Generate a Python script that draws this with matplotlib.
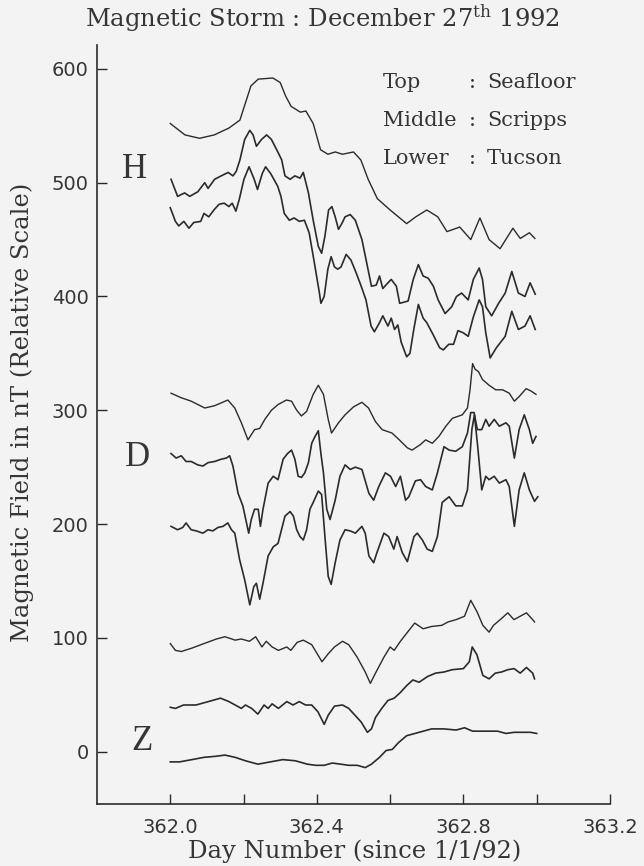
import matplotlib
matplotlib.use("Agg")
import matplotlib.pyplot as plt

# ---- H component (nT, relative scale) ----
h_sea_x = [362.00, 362.04, 362.08, 362.12, 362.16, 362.19, 362.205, 362.22, 362.24, 362.28,
           362.30, 362.315, 362.33, 362.355, 362.37, 362.39, 362.41, 362.43, 362.45, 362.47,
           362.50, 362.52, 362.54, 362.565, 362.60, 362.645, 362.67, 362.70, 362.73, 362.755,
           362.79, 362.82, 362.845, 362.87, 362.90, 362.935, 362.955, 362.98, 362.995]
h_sea_y = [552, 542, 539, 542, 548, 555, 570, 585, 591, 592,
           588, 576, 567, 562, 563, 552, 529, 525, 527, 525,
           527, 520, 503, 486, 476, 464, 470, 476, 470, 457,
           461, 450, 469, 450, 442, 460, 451, 456, 451]

h_scr_x = [362.002, 362.02, 362.039, 362.053, 362.075, 362.094, 362.103, 362.121, 362.139, 362.158,
           362.171, 362.18, 362.19, 362.203, 362.217, 362.226, 362.235, 362.249, 362.263, 362.276,
           362.295, 362.304, 362.313, 362.327, 362.34, 362.354, 362.363, 362.377, 362.39, 362.404,
           362.413, 362.422, 362.432, 362.441, 362.45, 362.459, 362.468, 362.477, 362.491, 362.505,
           362.523, 362.537, 362.549, 362.562, 362.571, 362.58, 362.594, 362.603, 362.617, 362.626,
           362.649, 362.663, 362.677, 362.69, 362.704, 362.718, 362.731, 362.75, 362.768, 362.781,
           362.795, 362.813, 362.827, 362.843, 362.852, 362.861, 362.877, 362.896, 362.914, 362.932,
           362.95, 362.968, 362.982, 362.996]
h_scr_y = [503, 488, 491, 488, 492, 500, 495, 503, 506, 509,
           506, 510, 520, 538, 546, 542, 532, 538, 542, 538,
           526, 520, 506, 503, 506, 504, 509, 491, 467, 444,
           438, 453, 476, 479, 470, 459, 464, 470, 472, 467,
           450, 428, 409, 410, 418, 407, 412, 415, 409, 394,
           396, 415, 428, 418, 416, 409, 397, 385, 391, 400,
           403, 397, 415, 425, 415, 391, 383, 394, 403, 422,
           403, 400, 412, 402]

h_tuc_x = [362.0, 362.014, 362.023, 362.037, 362.051, 362.064, 362.083, 362.092, 362.105, 362.119,
           362.133, 362.147, 362.16, 362.169, 362.179, 362.188, 362.201, 362.215, 362.229, 362.238,
           362.251, 362.26, 362.274, 362.293, 362.302, 362.311, 362.325, 362.338, 362.352, 362.366,
           362.379, 362.393, 362.407, 362.411, 362.42, 362.43, 362.439, 362.448, 362.457, 362.466,
           362.48, 362.493, 362.507, 362.521, 362.534, 362.548, 362.557, 362.571, 362.58, 362.594,
           362.603, 362.612, 362.621, 362.63, 362.645, 362.654, 362.665, 362.677, 362.69, 362.70,
           362.718, 362.735, 362.745, 362.76, 362.773, 362.785, 362.80, 362.813, 362.827, 362.843,
           362.852, 362.861, 362.873, 362.89, 362.914, 362.932, 362.95, 362.968, 362.982, 362.996]
h_tuc_y = [478, 466, 462, 466, 460, 465, 466, 473, 470, 476,
           481, 482, 479, 482, 475, 485, 503, 514, 503, 494,
           508, 514, 508, 497, 488, 473, 467, 469, 466, 467,
           456, 430, 403, 394, 400, 424, 435, 426, 424, 426,
           437, 432, 421, 409, 397, 374, 369, 377, 383, 374,
           381, 371, 375, 360, 347, 350, 372, 393, 381, 377,
           366, 355, 353, 358, 358, 370, 368, 365, 382, 397,
           391, 368, 346, 355, 365, 387, 371, 374, 383, 371]

# ---- D component ----
d_sea_x = [362.002, 362.03, 362.057, 362.094, 362.121, 362.157, 362.176, 362.194, 362.212, 362.23,
           362.244, 362.258, 362.276, 362.294, 362.317, 362.331, 362.345, 362.358, 362.372, 362.39,
           362.404, 362.418, 362.431, 362.44, 362.459, 362.477, 362.50, 362.523, 362.541, 362.56,
           362.578, 362.605, 362.625, 362.647, 362.66, 362.683, 362.697, 362.715, 362.733, 362.752,
           362.77, 362.797, 362.811, 362.818, 362.825, 362.832, 362.841, 362.852, 362.87, 362.888,
           362.907, 362.925, 362.939, 362.952, 362.971, 362.984, 362.998]
d_sea_y = [315, 311, 308, 302, 304, 309, 302, 289, 274, 283,
           284, 292, 300, 305, 309, 308, 300, 295, 299, 314,
           322, 314, 292, 280, 289, 296, 303, 307, 302, 290,
           283, 280, 274, 267, 265, 270, 274, 271, 277, 286,
           293, 296, 302, 318, 341, 336, 334, 327, 322, 318,
           318, 315, 308, 312, 319, 317, 314]

d_scr_x = [362.002, 362.016, 362.03, 362.043, 362.057, 362.075, 362.089, 362.103, 362.121, 362.139,
           362.153, 362.162, 362.171, 362.185, 362.198, 362.208, 362.214, 362.221, 362.23, 362.24,
           362.246, 362.253, 362.267, 362.281, 362.294, 362.308, 362.32, 362.331, 362.34, 362.349,
           362.358, 362.367, 362.377, 362.386, 362.395, 362.404, 362.411, 362.418, 362.427, 362.436,
           362.45, 362.463, 362.477, 362.491, 362.505, 362.523, 362.542, 362.555, 362.569, 362.587,
           362.601, 362.615, 362.628, 362.642, 362.651, 362.669, 362.683, 362.697, 362.715, 362.729,
           362.747, 362.761, 362.779, 362.797, 362.811, 362.82, 362.829, 362.838, 362.85, 362.861,
           362.87, 362.884, 362.898, 362.916, 362.925, 362.939, 362.952, 362.966, 362.98, 362.989,
           362.998]
d_scr_y = [262, 258, 260, 255, 255, 252, 251, 254, 255, 257,
           258, 260, 251, 227, 216, 201, 192, 204, 213, 213,
           198, 213, 236, 242, 239, 257, 262, 265, 257, 242,
           241, 245, 254, 271, 277, 282, 262, 245, 213, 204,
           221, 242, 252, 248, 250, 248, 227, 221, 233, 245,
           242, 233, 242, 221, 224, 238, 239, 233, 230, 245,
           268, 265, 264, 268, 280, 298, 298, 283, 283, 292,
           286, 292, 286, 289, 286, 258, 283, 296, 283, 271,
           277]

d_tuc_x = [362.002, 362.02, 362.034, 362.043, 362.057, 362.071, 362.089, 362.103, 362.116, 362.13,
           362.144, 362.157, 362.167, 362.176, 362.189, 362.203, 362.217, 362.228, 362.235, 362.244,
           362.253, 362.267, 362.281, 362.294, 362.313, 362.327, 362.336, 362.345, 362.354, 362.363,
           362.372, 362.381, 362.39, 362.404, 362.413, 362.422, 362.431, 362.439, 362.45, 362.463,
           362.477, 362.491, 362.505, 362.523, 362.532, 362.542, 362.555, 362.564, 362.583, 362.596,
           362.61, 362.619, 362.633, 362.647, 362.665, 362.674, 362.688, 362.701, 362.715, 362.729,
           362.742, 362.761, 362.779, 362.797, 362.811, 362.823, 362.83, 362.839, 362.85, 362.861,
           362.87, 362.884, 362.898, 362.916, 362.925, 362.939, 362.952, 362.966, 362.98, 362.994,
           363.003]
d_tuc_y = [198, 195, 197, 201, 195, 194, 192, 195, 194, 197,
           198, 201, 195, 192, 169, 151, 129, 145, 148, 134,
           148, 172, 180, 183, 207, 211, 207, 195, 189, 186,
           195, 213, 219, 229, 226, 189, 154, 147, 166, 186,
           195, 194, 192, 198, 192, 172, 166, 175, 192, 189,
           178, 189, 175, 167, 189, 192, 186, 178, 176, 189,
           219, 224, 216, 216, 230, 283, 296, 268, 230, 242,
           239, 242, 236, 239, 233, 198, 230, 245, 230, 220,
           224]

# ---- Z component ----
z_sea_x = [362.0, 362.014, 362.03, 362.059, 362.092, 362.126, 362.149, 362.177, 362.194, 362.216,
           362.233, 362.25, 362.262, 362.278, 362.295, 362.318, 362.329, 362.346, 362.363, 362.386,
           362.414, 362.431, 362.448, 362.47, 362.487, 362.51, 362.532, 362.546, 362.56, 362.583,
           362.6, 362.611, 362.628, 362.645, 362.667, 362.69, 362.713, 362.741, 362.758, 362.78,
           362.803, 362.82, 362.837, 362.853, 362.87, 362.882, 362.904, 362.921, 362.938, 362.955,
           362.972, 362.989, 362.994]
z_sea_y = [95, 89, 88, 91, 95, 99, 101, 98, 99, 97,
           101, 92, 97, 92, 89, 92, 89, 96, 98, 94,
           79, 86, 92, 97, 94, 83, 70, 60, 69, 83,
           92, 89, 97, 104, 113, 108, 110, 111, 114, 116,
           119, 133, 123, 111, 105, 111, 117, 122, 116, 119,
           122, 116, 114]

z_scr_x = [362.0, 362.014, 362.036, 362.07, 362.104, 362.137, 362.16, 362.177, 362.194, 362.205,
           362.222, 362.239, 362.256, 362.267, 362.278, 362.295, 362.318, 362.335, 362.352, 362.369,
           362.386, 362.403, 362.42, 362.431, 362.448, 362.47, 362.487, 362.504, 362.521, 362.538,
           362.549, 362.56, 362.577, 362.594, 362.611, 362.628, 362.645, 362.662, 362.679, 362.702,
           362.724, 362.747, 362.769, 362.8, 362.816, 362.824, 362.837, 362.853, 362.87, 362.887,
           362.904, 362.921, 362.938, 362.955, 362.972, 362.989, 362.994]
z_scr_y = [39, 38, 41, 41, 44, 47, 44, 41, 38, 41,
           38, 33, 41, 38, 42, 38, 44, 41, 44, 41,
           41, 35, 24, 32, 40, 41, 38, 32, 26, 17,
           20, 30, 38, 45, 47, 52, 58, 63, 61, 66,
           69, 70, 72, 73, 79, 92, 85, 67, 64, 69,
           70, 72, 73, 69, 74, 69, 64]

z_tuc_x = [362.0, 362.025, 362.059, 362.092, 362.126, 362.149, 362.177, 362.205, 362.239, 362.273,
           362.307, 362.341, 362.374, 362.397, 362.42, 362.442, 362.465, 362.487, 362.51, 362.532,
           362.549, 362.571, 362.589, 362.606, 362.623, 362.645, 362.679, 362.713, 362.747, 362.78,
           362.803, 362.825, 362.848, 362.871, 362.893, 362.916, 362.938, 362.961, 362.983, 363.0]
z_tuc_y = [-9, -9, -7, -5, -4, -3, -5, -8, -11, -9,
           -7, -8, -11, -12, -12, -10, -11, -12, -12, -14,
           -11, -5, 1, 2, 8, 14, 17, 20, 20, 19,
           21, 18, 18, 18, 18, 16, 17, 17, 17, 16]

seafloor = [(h_sea_x, h_sea_y), (d_sea_x, d_sea_y), (z_sea_x, z_sea_y)]
land = [(h_scr_x, h_scr_y), (h_tuc_x, h_tuc_y),
        (d_scr_x, d_scr_y), (d_tuc_x, d_tuc_y),
        (z_scr_x, z_scr_y), (z_tuc_x, z_tuc_y)]

x_major = [362.0, 362.4, 362.8, 363.2]
x_minor = [362.2, 362.6, 363.0]
y_ticks = [0, 100, 200, 300, 400, 500, 600]

ink = "#2b2b2b"
txt = "#353535"
paper = "#f3f3f3"
serif = "DejaVu Serif"
plt.rcParams["mathtext.fontset"] = "dejavuserif"

W, H = 644, 866
fig = plt.figure(figsize=(W / 100, H / 100), dpi=100, facecolor=paper)
ax = fig.add_axes([97 / W, 62 / H, 513 / W, 759 / H])
ax.set_facecolor(paper)

for xs, ys in seafloor:
    ax.plot(xs, ys, color=ink, lw=1.0)
for xs, ys in land:
    ax.plot(xs, ys, color=ink, lw=1.2)

ax.set_xlim(361.8, 363.2)
ax.set_ylim(-46, 621)

for side in ("top", "right"):
    ax.spines[side].set_visible(False)
for side in ("left", "bottom"):
    ax.spines[side].set_color(ink)
    ax.spines[side].set_linewidth(1.2)

ax.set_xticks(x_major)
ax.set_xticklabels([f"{v:.1f}" for v in x_major])
ax.set_xticks(x_minor, minor=True)
ax.set_yticks(y_ticks)
ax.tick_params(which="both", direction="in", length=7, width=1, color=ink)
ax.tick_params(axis="x", pad=10, labelsize=14, labelcolor=txt)
ax.tick_params(axis="y", pad=6, labelsize=14, labelcolor=txt)

fig.text(0.5, 1 - 18 / H, r"Magnetic Storm : December 27$^{\mathrm{th}}$ 1992",
         ha="center", va="center", fontsize=17.5, family=serif, color=txt)
fig.text(22 / W, 1 - 412 / H, "Magnetic Field in nT (Relative Scale)", rotation=90,
         ha="center", va="center", fontsize=17.5, family=serif, color=txt)
fig.text(355 / W, 1 - 851 / H, "Day Number (since 1/1/92)",
         ha="center", va="center", fontsize=17.5, family=serif, color=txt)

# station key
key_rows = [("Top", "Seafloor", 83), ("Middle", "Scripps", 120), ("Lower", "Tucson", 158)]
for name, station, py in key_rows:
    fig.text(383 / W, 1 - py / H, name, ha="left", va="center",
             fontsize=15, family=serif, color=txt)
    fig.text(469 / W, 1 - py / H, ":", ha="left", va="center",
             fontsize=15, family=serif, color=txt)
    fig.text(487 / W, 1 - py / H, station, ha="left", va="center",
             fontsize=15, family=serif, color=txt)

# component letters
for letter, px, py in [("H", 135, 170), ("D", 138, 458), ("Z", 142, 742)]:
    fig.text(px / W, 1 - py / H, letter, ha="center", va="center",
             fontsize=25, family="Liberation Serif", color=txt)

fig.savefig("out.png", dpi=100, facecolor=paper)
